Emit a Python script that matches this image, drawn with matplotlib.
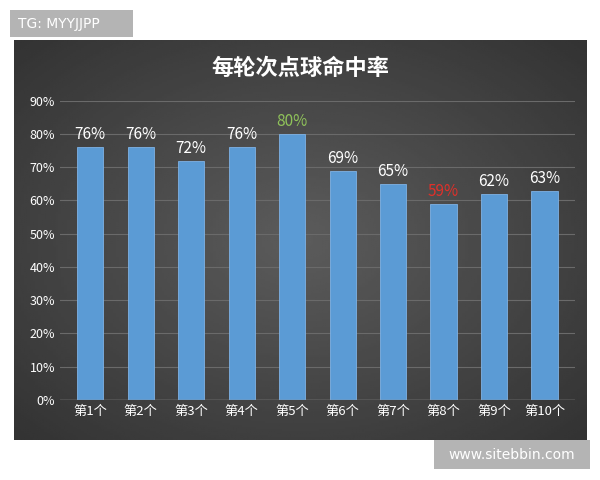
import matplotlib
matplotlib.use("Agg")
import matplotlib.pyplot as plt
import numpy as np
from matplotlib.patches import Rectangle

plt.rcParams['font.family'] = ['Noto Sans CJK SC', 'DejaVu Sans']

categories = ["第1个", "第2个", "第3个", "第4个", "第5个", "第6个", "第7个", "第8个", "第9个", "第10个"]
rates = [76, 76, 72, 76, 80, 69, 65, 59, 62, 63]
label_colors = ["white"] * 10
label_colors[4] = "#8fc25a"
label_colors[7] = "#e0302a"

fig = plt.figure(figsize=(6, 4.8), dpi=100)
fig.patch.set_facecolor("white")

# dark panel with radial gradient
bg = fig.add_axes([0.023, 0.083, 0.954, 0.834])
yy, xx = np.mgrid[-1:1:200j, -1:1:200j]
r = np.sqrt(xx ** 2 + yy ** 2)
bg.imshow(0.36 - 0.16 * np.clip(r, 0, 1.4) / 1.4, cmap="gray", vmin=0, vmax=1,
          aspect="auto", extent=[0, 1, 0, 1])
bg.set_axis_off()

ax = fig.add_axes([0.10, 0.167, 0.858, 0.623])
ax.patch.set_alpha(0)
x = np.arange(len(categories))
ax.bar(x, rates, width=0.52, color="#5b9bd5", edgecolor="#7fb2e5", linewidth=0.6, zorder=3)
for xi, v, c in zip(x, rates, label_colors):
    ax.text(xi, v + 1.2, f"{v}%", ha="center", va="bottom", color=c, fontsize=11)
ax.set_ylim(0, 90)
ax.set_xlim(-0.6, len(categories) - 0.4)
ax.set_yticks(range(0, 91, 10))
ax.set_yticklabels([f"{t}%" for t in range(0, 91, 10)], color="white", fontsize=9)
ax.set_xticks(x)
ax.set_xticklabels(categories, color="white", fontsize=9.5)
ax.grid(axis="y", color="#6a6a6a", linewidth=0.8, zorder=0)
ax.tick_params(length=0)
for s in ax.spines.values():
    s.set_visible(False)
ax.axhline(0, color="#9a9a9a", linewidth=1, zorder=4)

fig.text(0.5, 0.858, "每轮次点球命中率", ha="center", va="center", color="white",
         fontsize=16, fontweight="bold")

# watermarks
fig.patches.append(Rectangle((0.017, 0.922), 0.205, 0.058, transform=fig.transFigure,
                             facecolor="#b4b4b4", edgecolor="none", zorder=5))
fig.text(0.03, 0.951, "TG: MYYJJPP", color="white", fontsize=10, va="center", zorder=6,
         family="DejaVu Sans")
fig.patches.append(Rectangle((0.723, 0.023), 0.26, 0.06, transform=fig.transFigure,
                             facecolor="#b4b4b4", edgecolor="none", zorder=5))
fig.text(0.853, 0.053, "www.sitebbin.com", color="white", fontsize=10, va="center",
         ha="center", zorder=6, family="DejaVu Sans")

fig.savefig("out.png", dpi=100)
